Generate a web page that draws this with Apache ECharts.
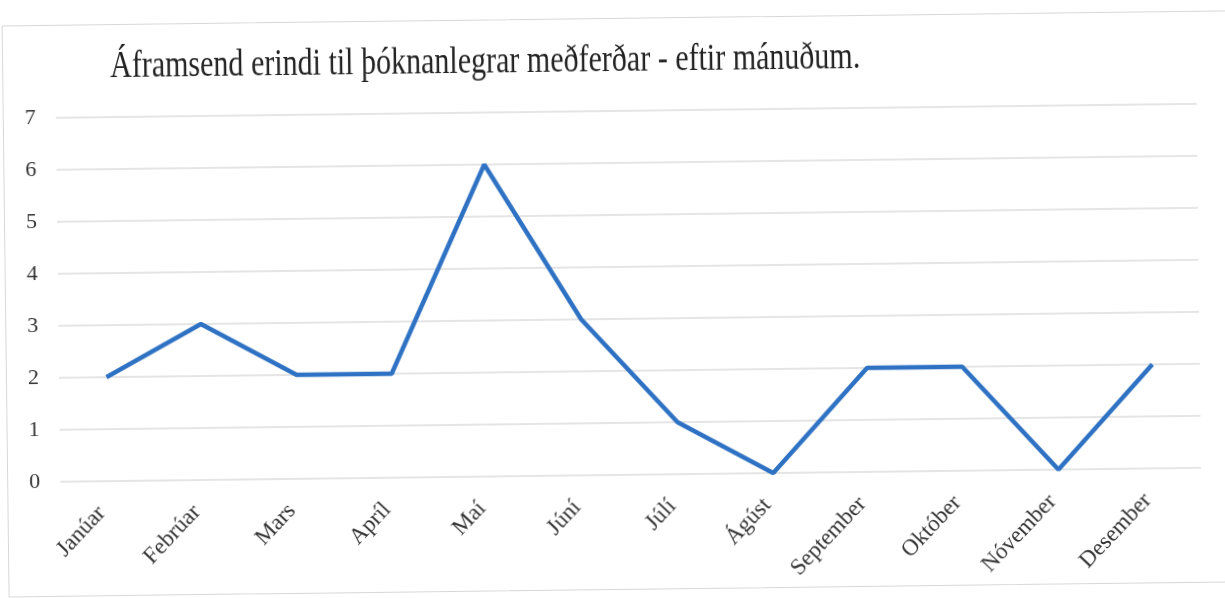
<!DOCTYPE html>
<html>
<head>
<meta charset="utf-8">
<script src="https://cdn.jsdelivr.net/npm/echarts@6/dist/echarts.min.js"></script>
<style>
  html, body { margin: 0; padding: 0; background: #fff; }
  #wrap {
    position: absolute; left: 0; top: 0; width: 1225px; height: 598px;
    transform: rotate(-0.7deg); transform-origin: 612px 299px;
  }
  #frame {
    position: absolute; left: 5px; top: 18px; width: 1240px; height: 572px;
    border: 1px solid #d8d8d8; box-sizing: border-box;
  }
  #main { position: absolute; left: 0; top: 0; width: 1225px; height: 598px; }
</style>
</head>
<body>
<div id="wrap">
  <div id="frame"></div>
  <div id="main"></div>
</div>
<script>
const chartTitle = 'Áframsend erindi til þóknanlegrar meðferðar - eftir mánuðum.'
const months = ['Janúar', 'Febrúar', 'Mars', 'Apríl', 'Maí', 'Júní', 'Júlí', 'Ágúst', 'September', 'Október', 'Nóvember', 'Desember']
const counts = [2, 3, 2, 2, 6, 3, 1, 0, 2, 2, 0, 2]

const chart = echarts.init(document.getElementById('main'))
const serif = '"Liberation Serif", "DejaVu Serif", serif'

chart.setOption({
  animation: false,
  // title drawn as graphic text so it can be squeezed horizontally like the original
  graphic: [
    {
      type: 'text',
      left: 113,
      top: 42,
      scaleX: 0.79,
      style: {
        text: chartTitle,
        fontFamily: serif,
        fontSize: 38,
        fill: '#222',
      },
    },
  ],
  grid: {
    left: 58,
    right: 26,
    top: 111,
    bottom: 123,
  },
  xAxis: {
    type: 'category',
    data: months,
    boundaryGap: true,
    axisLine: { show: false },
    axisTick: { show: false },
    axisLabel: {
      rotate: 46,
      interval: 0,
      margin: 22,
      padding: [0, 9, 0, 0],
      fontFamily: serif,
      fontSize: 23,
      color: '#333',
    },
  },
  yAxis: {
    type: 'value',
    min: 0,
    max: 7,
    interval: 1,
    axisLine: { show: false },
    axisTick: { show: false },
    axisLabel: {
      margin: 20,
      fontFamily: serif,
      fontSize: 22,
      color: '#333',
    },
    splitLine: {
      lineStyle: { color: '#dcdcdc', width: 1.5 },
    },
  },
  series: [
    {
      type: 'line',
      data: counts,
      symbol: 'none',
      lineStyle: { color: '#2f72c3', width: 4.5 },
    },
  ],
})
</script>
</body>
</html>
